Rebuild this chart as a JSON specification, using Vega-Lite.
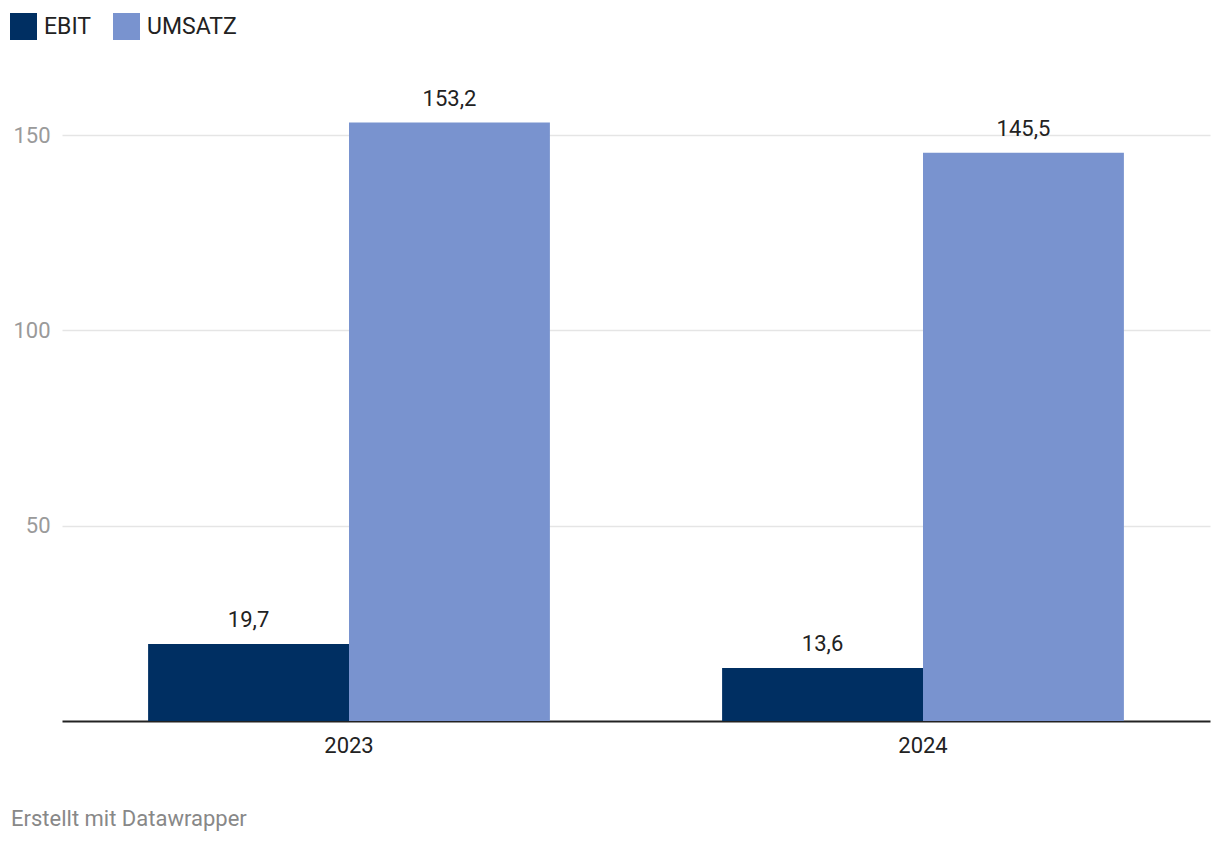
{
  "$schema": "https://vega.github.io/schema/vega-lite/v6.json",
  "width": 1148,
  "height": 625,
  "autosize": {"type": "none"},
  "padding": {"left": 62, "top": 96, "right": 10, "bottom": 123},
  "background": "white",
  "config": {
    "font": "Roboto",
    "view": {"stroke": null},
    "locale": {"number": {"decimal": ",", "thousands": ".", "grouping": [3], "currency": ["", " €"]}}
  },
  "title": {
    "text": "Erstellt mit Datawrapper",
    "orient": "bottom",
    "anchor": "start",
    "frame": "group",
    "dx": -51,
    "offset": 53,
    "fontSize": 22,
    "fontWeight": "normal",
    "color": "#888888",
    "font": "Roboto"
  },
  "data": {
    "values": [
      {"jahr": "2023", "kennzahl": "EBIT", "wert": 19.7},
      {"jahr": "2023", "kennzahl": "UMSATZ", "wert": 153.2},
      {"jahr": "2024", "kennzahl": "EBIT", "wert": 13.6},
      {"jahr": "2024", "kennzahl": "UMSATZ", "wert": 145.5}
    ]
  },
  "encoding": {
    "x": {
      "field": "jahr",
      "type": "nominal",
      "scale": {"paddingInner": 0.3, "paddingOuter": 0.15},
      "axis": {
        "title": null,
        "labelAngle": 0,
        "labelFontSize": 22,
        "labelColor": "#222222",
        "labelPadding": 14,
        "ticks": false,
        "domainColor": "#222222",
        "domainWidth": 2
      }
    },
    "xOffset": {"field": "kennzahl", "type": "nominal", "scale": {"paddingInner": 0}},
    "y": {
      "field": "wert",
      "type": "quantitative",
      "scale": {"domain": [0, 160], "nice": false},
      "axis": {
        "title": null,
        "values": [50, 100, 150],
        "domain": false,
        "ticks": false,
        "labelFontSize": 22,
        "labelColor": "#9a9a9a",
        "labelPadding": 12,
        "gridColor": "#e5e5e5",
        "gridWidth": 1.5
      }
    }
  },
  "layer": [
    {
      "mark": {"type": "bar"},
      "encoding": {
        "color": {
          "field": "kennzahl",
          "type": "nominal",
          "scale": {"domain": ["EBIT", "UMSATZ"], "range": ["#002f62", "#7993cf"]},
          "legend": {
            "title": null,
            "orient": "none",
            "legendX": -52,
            "legendY": -83,
            "direction": "horizontal",
            "symbolType": "square",
            "symbolSize": 729,
            "symbolStrokeWidth": 0,
            "symbolOpacity": 1,
            "labelFontSize": 23,
            "labelColor": "#222222",
            "labelOffset": 7,
            "columnPadding": 21
          }
        }
      }
    },
    {
      "mark": {"type": "text", "baseline": "bottom", "dy": -12, "fontSize": 22, "color": "#222222"},
      "encoding": {
        "text": {"field": "wert", "type": "quantitative", "format": ".1f"}
      }
    }
  ]
}
